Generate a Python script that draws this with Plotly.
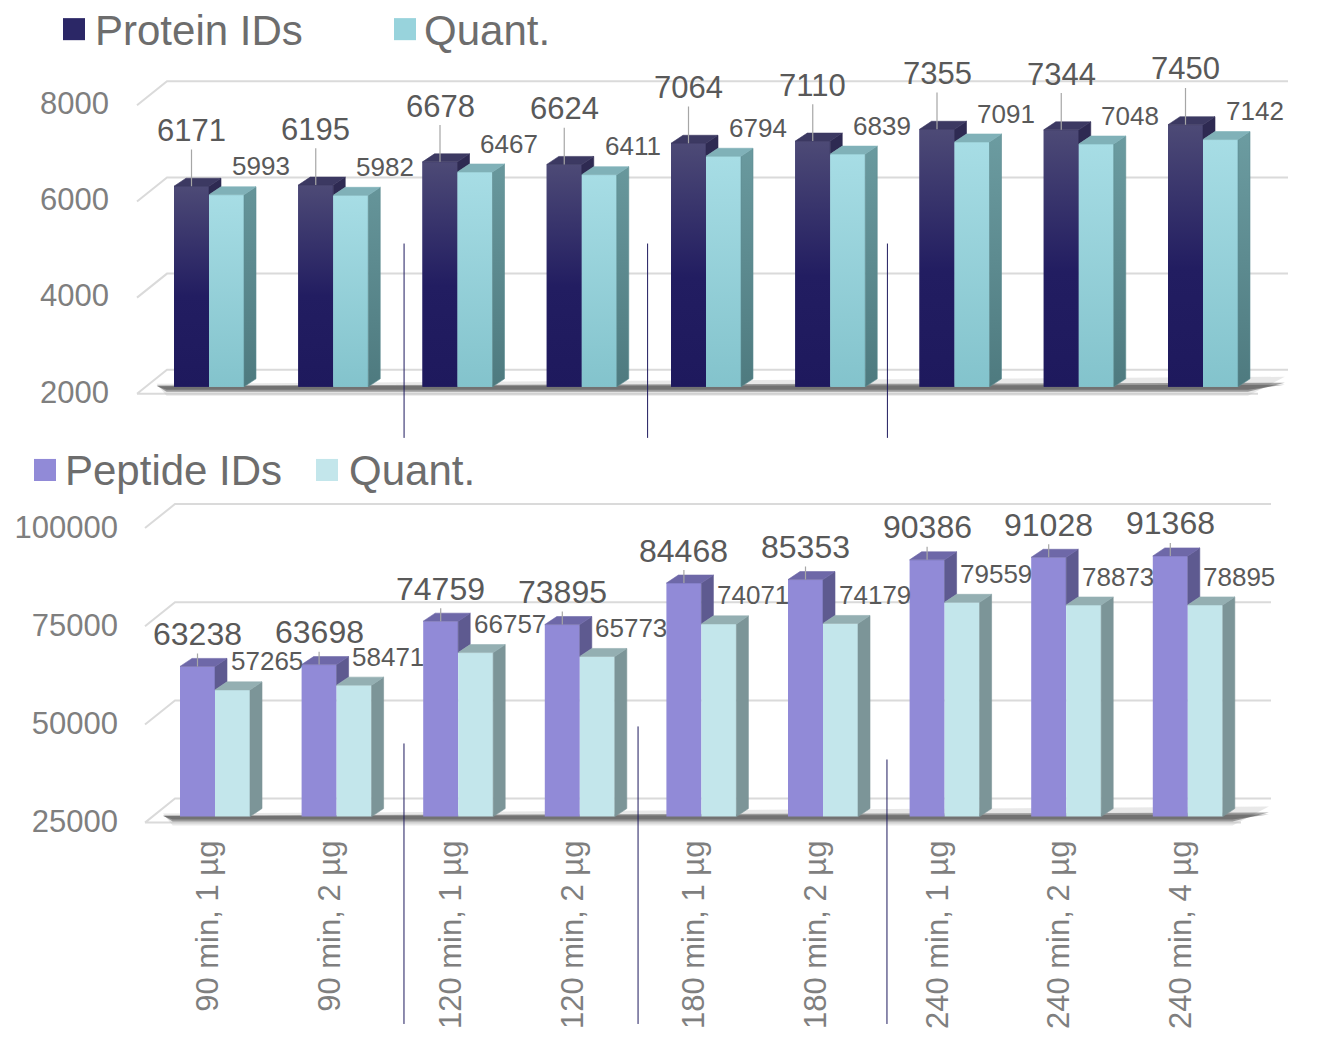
import plotly.graph_objects as go

# ---------------- data ----------------
categories = ["90 min, 1 µg", "90 min, 2 µg", "120 min, 1 µg", "120 min, 2 µg",
              "180 min, 1 µg", "180 min, 2 µg", "240 min, 1 µg", "240 min, 2 µg",
              "240 min, 4 µg"]
protein_ids = [6171, 6195, 6678, 6624, 7064, 7110, 7355, 7344, 7450]
protein_quant = [5993, 5982, 6467, 6411, 6794, 6839, 7091, 7048, 7142]
peptide_ids = [63238, 63698, 74759, 73895, 84468, 85353, 90386, 91028, 91368]
peptide_quant = [57265, 58471, 66757, 65773, 74071, 74179, 79559, 78873, 78895]
protein_ticks = [2000, 4000, 6000, 8000]
peptide_ticks = [25000, 50000, 75000, 100000]

# ---------------- style / geometry ----------------
OFF = 8                      # default body margin of the html page
S = 1037 / 1052              # vertical scale observed between page and photo
W, H = 1324 - OFF, 1052 - OFF
FONT = "Liberation Sans, Arial, sans-serif"
LABEL = "#595959"
AXIS_TXT = "#7f7f7f"
GRID = "#dadada"


def pxx(px):
    """target pixel x -> paper fraction"""
    return (px - OFF) / W


def pxy(py):
    """target pixel y -> paper fraction"""
    wy = py / S
    return (H - (wy - OFF)) / H


panels = [
    dict(name="top", xa="x", ya="y", x0px=209, step=124.25, base=2000, base_px=386,
         ppu=0.048, yr=(1600, 9300), ids=protein_ids, quant=protein_quant,
         ticks=protein_ticks, id_name="Protein IDs",
         front_id="#2a2565", front_q="#94d0d9",
         grad_id=[[0, "#1e195d"], [0.45, "#221d61"], [1, "#4d4a76"]],
         grad_q=[[0, "#83c3cc"], [1, "#a7dde5"]],
         side_id="#2e2a52", top_id="#3c3962", side_q="#5d8b90", top_q="#80b1b8",
         grad_side_q=[[0, "#4e7a7f"], [1, "#6c9ca1"]],
         grid_x=(137, 167, 1288), grid_front=7, grid_back=17,
         ylab_pos=109, id_ay=-55, id_font=31, q_font=26),
    dict(name="bottom", xa="x2", ya="y2", x0px=215, step=121.6, base=25000, base_px=815,
         ppu=0.00392, yr=(22500, 105500), ids=peptide_ids, quant=peptide_quant,
         ticks=peptide_ticks, id_name="Peptide IDs",
         front_id="#918ad7", front_q="#c3e6eb",
         grad_id=None, grad_q=None,
         side_id="#5e5a90", top_id="#6e68a8", side_q="#7c9598", top_q="#94afb2",
         grad_side_q=None,
         grid_x=(145, 175, 1271), grid_front=6, grid_back=18,
         ylab_pos=118, id_ay=-32, id_font=32, q_font=26),
]

fig = go.Figure()
shapes = []
annotations = []
layout_axes = {}


def polys_to_xy(polys):
    xs, ys = [], []
    for p in polys:
        for (a, b) in p:
            xs.append(a)
            ys.append(b)
        xs.append(p[0][0])
        ys.append(p[0][1])
        xs.append(None)
        ys.append(None)
    return xs, ys


for k, P in enumerate(panels):
    xa, ya = P["xa"], P["ya"]
    step, ppu, base = P["step"], P["ppu"], P["base"]
    n = len(categories)
    pos = list(range(n))
    w = 35 / step          # bar width in category units
    dx = 12 / step         # depth, x
    dy = 8 / ppu           # depth, y

    def ypx(v, P=P):
        return P["base_px"] - (v - P["base"]) * P["ppu"]

    # axes
    c0 = P["x0px"] - OFF
    xr = (-c0 / step, (W - c0) / step)
    dom = (pxy(ypx(P["yr"][0])), pxy(ypx(P["yr"][1])))
    xkey = "xaxis" if xa == "x" else "xaxis2"
    ykey = "yaxis" if ya == "y" else "yaxis2"
    layout_axes[xkey] = dict(domain=[0, 1], range=list(xr), anchor=ya,
                             showgrid=False, zeroline=False, showline=False,
                             ticks="", fixedrange=True,
                             tickvals=pos, ticktext=categories,
                             showticklabels=(P["name"] == "bottom"),
                             tickangle=-90, ticklabelstandoff=round(7 / S), ticklabelshift=-7,
                             tickfont=dict(family=FONT, size=31, color=AXIS_TXT))
    layout_axes[ykey] = dict(domain=list(dom), range=list(P["yr"]), anchor="free",
                             position=pxx(P["ylab_pos"]),
                             showgrid=False, zeroline=False, showline=False,
                             ticks="", tickvals=P["ticks"], tickformat="d",
                             ticklabelshift=round(5 / S),
                             tickfont=dict(family=FONT, size=31, color=AXIS_TXT),
                             fixedrange=True)

    # gridlines (perspective, behind bars)
    gxf = (P["grid_x"][0] - P["x0px"]) / step
    gxb = (P["grid_x"][1] - P["x0px"]) / step
    gxr = (P["grid_x"][2] - P["x0px"]) / step
    for t in P["ticks"]:
        yf = t - P["grid_front"] / ppu
        yb = t + P["grid_back"] / ppu
        path = f"M {gxf},{yf} L {gxb},{yb} L {gxr},{yb}"
        if t == P["ticks"][0]:
            path += f" M {gxf},{yf} L {gxr - (gxb - gxf)},{yf}"
        shapes.append(dict(type="path", path=path, xref=xa, yref=ya, layer="below",
                           line=dict(color=GRID, width=2)))

    # floor shadow (behind bars)
    xl = pos[0] - w - 0.14
    xrr = pos[-1] + w + dx + 0.28
    xrf = pos[-1] + w + 0.08
    for col, up, down in [("rgba(190,190,190,0.35)", 10, 9), ("rgba(60,60,60,0.45)", 4, 5),
                          ("rgba(40,40,40,0.35)", 2, 3)]:
        path = (f"M {xl},{base + up / ppu * 0.3} L {xrr},{base + up / ppu} "
                f"L {xrf},{base - down / ppu} L {xl + 0.08},{base - down / ppu} Z")
        shapes.append(dict(type="path", path=path, xref=xa, yref=ya, layer="below",
                           fillcolor=col, line=dict(width=0)))

    # front faces: bars
    ids, qs = P["ids"], P["quant"]
    fig.add_trace(go.Bar(x=pos, y=[v - base for v in ids], base=base, offset=-w, width=w,
                         marker=dict(color=P["front_id"], line=dict(width=0)),
                         customdata=ids, name=P["id_name"], showlegend=False,
                         hovertemplate="%{customdata}<extra>" + P["id_name"] + "</extra>",
                         xaxis=xa, yaxis=ya))
    fig.add_trace(go.Bar(x=pos, y=[v - base for v in qs], base=base, offset=0, width=w,
                         marker=dict(color=P["front_q"], line=dict(width=0)),
                         customdata=qs, name="Quant.", showlegend=False,
                         hovertemplate="%{customdata}<extra>Quant.</extra>",
                         xaxis=xa, yaxis=ya))

    # gradient overlays for front faces (top panel)
    if P["grad_id"] is not None:
        for i in pos:
            for (x_l, v, cs) in [(i - w, ids[i], P["grad_id"]), (i, qs[i], P["grad_q"])]:
                fig.add_trace(go.Scatter(x=[x_l, x_l + w, x_l + w, x_l, x_l],
                                         y=[base, base, v, v, base], mode="lines",
                                         fill="toself", line=dict(width=0),
                                         fillgradient=dict(type="vertical", colorscale=cs),
                                         hoverinfo="skip", showlegend=False,
                                         xaxis=xa, yaxis=ya))

    # 3D faces
    top_id = [[(i - w, ids[i]), (i, ids[i]), (i + dx, ids[i] + dy), (i - w + dx, ids[i] + dy)] for i in pos]
    side_id = [[(i, qs[i]), (i + dx, qs[i] + dy), (i + dx, ids[i] + dy), (i, ids[i])] for i in pos]
    top_q = [[(i, qs[i]), (i + w, qs[i]), (i + w + dx, qs[i] + dy), (i + dx, qs[i] + dy)] for i in pos]
    side_q = [[(i + w, base), (i + w + dx, base + dy), (i + w + dx, qs[i] + dy), (i + w, qs[i])] for i in pos]
    for polys, col, grad in [(side_id, P["side_id"], None), (top_id, P["top_id"], None),
                             (side_q, P["side_q"], P["grad_side_q"]), (top_q, P["top_q"], None)]:
        xs, ys = polys_to_xy(polys)
        kw = dict(fillcolor=col)
        if grad is not None:
            kw = dict(fillgradient=dict(type="vertical", colorscale=grad))
        fig.add_trace(go.Scatter(x=xs, y=ys, mode="lines", fill="toself",
                                 line=dict(width=0.6, color=col), hoverinfo="skip",
                                 showlegend=False, xaxis=xa, yaxis=ya, **kw))

    # data labels
    for i in pos:
        annotations.append(dict(x=i - w / 2, y=ids[i], xref=xa, yref=ya, text=str(ids[i]),
                                showarrow=True, arrowhead=0, arrowwidth=1.2,
                                arrowcolor="#a6a6a6", ax=0, ay=P["id_ay"] / S,
                                font=dict(family=FONT, size=P["id_font"], color=LABEL)))
        annotations.append(dict(x=i + w / 2, y=qs[i], xref=xa, yref=ya, text=str(qs[i]),
                                showarrow=False, xshift=34, yshift=28 / S,
                                font=dict(family=FONT, size=P["q_font"], color=LABEL)))

# vertical separators (decorative)
for xv, y0, y1 in [(1.57, 437, 243), (3.53, 437, 243), (5.46, 437, 243)]:
    shapes.append(dict(type="line", xref="x", yref="paper", x0=xv, x1=xv,
                       y0=pxy(y0), y1=pxy(y1), line=dict(color="#1e1a5e", width=1)))
for xv, y0, y1 in [(1.554, 1022, 742), (3.479, 1022, 725), (5.526, 1022, 758)]:
    shapes.append(dict(type="line", xref="x2", yref="paper", x0=xv, x1=xv,
                       y0=pxy(y0), y1=pxy(y1), line=dict(color="#1e1a5e", width=1)))

# legends (swatches + text)
legend_items = [
    (63, 18, "#2b2766", 96, "Protein IDs"),
    (394, 18, "#98d3dc", 425, "Quant."),
    (34, 458, "#918ad7", 66, "Peptide IDs"),
    (316, 458, "#c3e6eb", 350, "Quant."),
]
for sx, sy, col, tx, txt in legend_items:
    shapes.append(dict(type="rect", xref="paper", yref="paper",
                       x0=pxx(sx), x1=pxx(sx + 22), y0=pxy(sy + 22), y1=pxy(sy),
                       fillcolor=col, line=dict(width=0)))
    annotations.append(dict(x=pxx(tx - 3), y=pxy(sy + 12), xref="paper", yref="paper",
                            xanchor="left", yanchor="middle", showarrow=False, text=txt,
                            font=dict(family=FONT, size=42, color="#6d6d6d")))

fig.update_layout(width=W, height=H, margin=dict(l=0, r=0, t=0, b=0),
                  paper_bgcolor="white", plot_bgcolor="rgba(0,0,0,0)",
                  showlegend=False, shapes=shapes, annotations=annotations,
                  font=dict(family=FONT), **layout_axes)

fig.write_html("out.html")
